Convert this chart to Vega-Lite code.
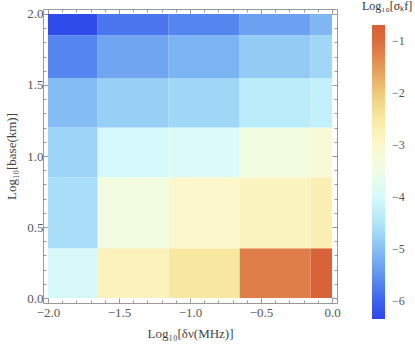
{
  "$schema": "https://vega.github.io/schema/vega-lite/v6.json",
  "width": 294,
  "height": 294,
  "autosize": {"type": "none"},
  "padding": {"left": 43, "top": 9, "right": 78, "bottom": 50},
  "background": "white",
  "title": {"text": "Log₁₀[σₖf]", "anchor": "start", "frame": "group", "orient": "top", "dx": 319, "offset": 0, "dy": 5, "font": "Liberation Serif", "fontSize": 12, "fontWeight": "normal", "color": "#333333"},
  "config": {
    "view": {"stroke": null},
    "axis": {
      "labelFont": "Liberation Serif",
      "titleFont": "Liberation Serif",
      "labelColor": "#555555",
      "titleColor": "#444444",
      "labelFontSize": 13,
      "titleFontSize": 13,
      "titleFontWeight": "normal",
      "domainColor": "#999999",
      "tickColor": "#999999",
      "grid": false,
      "zindex": 1
    }
  },
  "datasets": {
    "cells": [
      {"x1": -2.0, "x2": -1.65, "y1": 0.0, "y2": 0.35, "v": -3.95},
      {"x1": -1.65, "x2": -1.15, "y1": 0.0, "y2": 0.35, "v": -2.8},
      {"x1": -1.15, "x2": -0.65, "y1": 0.0, "y2": 0.35, "v": -2.45},
      {"x1": -0.65, "x2": -0.15, "y1": 0.0, "y2": 0.35, "v": -1.2},
      {"x1": -0.15, "x2": 0.0, "y1": 0.0, "y2": 0.35, "v": -0.8},
      {"x1": -2.0, "x2": -1.65, "y1": 0.35, "y2": 0.85, "v": -4.6},
      {"x1": -1.65, "x2": -1.15, "y1": 0.35, "y2": 0.85, "v": -3.4},
      {"x1": -1.15, "x2": -0.65, "y1": 0.35, "y2": 0.85, "v": -3.0},
      {"x1": -0.65, "x2": -0.15, "y1": 0.35, "y2": 0.85, "v": -2.85},
      {"x1": -0.15, "x2": 0.0, "y1": 0.35, "y2": 0.85, "v": -2.7},
      {"x1": -2.0, "x2": -1.65, "y1": 0.85, "y2": 1.2, "v": -4.75},
      {"x1": -1.65, "x2": -1.15, "y1": 0.85, "y2": 1.2, "v": -4.0},
      {"x1": -1.15, "x2": -0.65, "y1": 0.85, "y2": 1.2, "v": -3.9},
      {"x1": -0.65, "x2": -0.15, "y1": 0.85, "y2": 1.2, "v": -3.4},
      {"x1": -0.15, "x2": 0.0, "y1": 0.85, "y2": 1.2, "v": -3.2},
      {"x1": -2.0, "x2": -1.65, "y1": 1.2, "y2": 1.55, "v": -5.05},
      {"x1": -1.65, "x2": -1.15, "y1": 1.2, "y2": 1.55, "v": -4.8},
      {"x1": -1.15, "x2": -0.65, "y1": 1.2, "y2": 1.55, "v": -4.7},
      {"x1": -0.65, "x2": -0.15, "y1": 1.2, "y2": 1.55, "v": -4.35},
      {"x1": -0.15, "x2": 0.0, "y1": 1.2, "y2": 1.55, "v": -4.25},
      {"x1": -2.0, "x2": -1.65, "y1": 1.55, "y2": 1.85, "v": -5.65},
      {"x1": -1.65, "x2": -1.15, "y1": 1.55, "y2": 1.85, "v": -5.3},
      {"x1": -1.15, "x2": -0.65, "y1": 1.55, "y2": 1.85, "v": -5.15},
      {"x1": -0.65, "x2": -0.15, "y1": 1.55, "y2": 1.85, "v": -4.85},
      {"x1": -0.15, "x2": 0.0, "y1": 1.55, "y2": 1.85, "v": -4.7},
      {"x1": -2.0, "x2": -1.65, "y1": 1.85, "y2": 2.0, "v": -6.3},
      {"x1": -1.65, "x2": -1.15, "y1": 1.85, "y2": 2.0, "v": -5.8},
      {"x1": -1.15, "x2": -0.65, "y1": 1.85, "y2": 2.0, "v": -5.65},
      {"x1": -0.65, "x2": -0.15, "y1": 1.85, "y2": 2.0, "v": -5.35},
      {"x1": -0.15, "x2": 0.0, "y1": 1.85, "y2": 2.0, "v": -5.1}
    ]
  },
  "layer": [
    {
      "data": {"name": "cells"},
      "mark": {"type": "rect"},
      "encoding": {
        "x": {"field": "x1", "type": "quantitative",
          "scale": {"domain": [-2.035, 0.035], "nice": false, "zero": false},
          "axis": {"orient": "bottom", "values": [-2, -1.5, -1, -0.5, 0], "format": ".1f", "tickSize": -5, "labelPadding": 8, "title": "Log₁₀[δν(MHz)]", "titlePadding": 8}},
        "x2": {"field": "x2"},
        "y": {"field": "y1", "type": "quantitative",
          "scale": {"domain": [-0.035, 2.035], "nice": false, "zero": false},
          "axis": {"orient": "left", "values": [0, 0.5, 1, 1.5, 2], "format": ".1f", "tickSize": -5, "labelPadding": 5, "title": "Log₁₀[base(km)]", "titlePadding": 8}},
        "y2": {"field": "y2"},
        "color": {"field": "v", "type": "quantitative",
          "scale": {
            "domain": [-6.35, -6, -5.5, -5, -4.5, -4, -3.5, -3, -2.5, -2, -1.5, -1, -0.69],
            "range": ["#2d48ea", "#3d62ec", "#6094ef", "#88c0f4", "#b0e6f8", "#d6f9fc", "#eefde6", "#fdf8cc", "#f8eaa4", "#efca7a", "#e39a5a", "#dc6c3e", "#d85e36"],
            "interpolate": "rgb"
          },
          "legend": {
            "orient": "none", "legendX": 329, "legendY": 16, "direction": "vertical",
            "gradientLength": 294, "gradientThickness": 13, "gradientStrokeWidth": 0,
            "title": null,
            "labelFont": "Liberation Serif", "labelFontSize": 12, "labelColor": "#555555", "labelOffset": 7,
            "values": [-1, -2, -3, -4, -5, -6]
          }
        }
      }
    },
    {
      "data": {"name": "cells"},
      "mark": {"type": "rect", "opacity": 0},
      "encoding": {
        "x": {"field": "x1", "type": "quantitative",
          "scale": {"domain": [-2.035, 0.035], "nice": false, "zero": false},
          "axis": {"orient": "bottom", "values": [-1.9, -1.8, -1.7, -1.6, -1.4, -1.3, -1.2, -1.1, -0.9, -0.8, -0.7, -0.6, -0.4, -0.3, -0.2, -0.1], "labels": false, "domain": false, "tickSize": -3, "title": null}},
        "x2": {"field": "x2"},
        "y": {"field": "y1", "type": "quantitative",
          "scale": {"domain": [-0.035, 2.035], "nice": false, "zero": false},
          "axis": {"orient": "left", "values": [0.1, 0.2, 0.3, 0.4, 0.6, 0.7, 0.8, 0.9, 1.1, 1.2, 1.3, 1.4, 1.6, 1.7, 1.8, 1.9], "labels": false, "domain": false, "tickSize": -3, "title": null}},
        "y2": {"field": "y2"}
      }
    },
    {
      "data": {"name": "cells"},
      "mark": {"type": "rect", "opacity": 0},
      "encoding": {
        "x": {"field": "x1", "type": "quantitative",
          "scale": {"domain": [-2.035, 0.035], "nice": false, "zero": false},
          "axis": {"orient": "top", "values": [-2, -1.5, -1, -0.5, 0], "labels": false, "tickSize": -5, "title": null}},
        "x2": {"field": "x2"},
        "y": {"field": "y1", "type": "quantitative",
          "scale": {"domain": [-0.035, 2.035], "nice": false, "zero": false},
          "axis": {"orient": "right", "values": [0, 0.5, 1, 1.5, 2], "labels": false, "tickSize": -5, "title": null}},
        "y2": {"field": "y2"}
      }
    },
    {
      "data": {"name": "cells"},
      "mark": {"type": "rect", "opacity": 0},
      "encoding": {
        "x": {"field": "x1", "type": "quantitative",
          "scale": {"domain": [-2.035, 0.035], "nice": false, "zero": false},
          "axis": {"orient": "top", "values": [-1.9, -1.8, -1.7, -1.6, -1.4, -1.3, -1.2, -1.1, -0.9, -0.8, -0.7, -0.6, -0.4, -0.3, -0.2, -0.1], "labels": false, "domain": false, "tickSize": -3, "title": null}},
        "x2": {"field": "x2"},
        "y": {"field": "y1", "type": "quantitative",
          "scale": {"domain": [-0.035, 2.035], "nice": false, "zero": false},
          "axis": {"orient": "right", "values": [0.1, 0.2, 0.3, 0.4, 0.6, 0.7, 0.8, 0.9, 1.1, 1.2, 1.3, 1.4, 1.6, 1.7, 1.8, 1.9], "labels": false, "domain": false, "tickSize": -3, "title": null}},
        "y2": {"field": "y2"}
      }
    }
  ],
  "resolve": {"axis": {"x": "independent", "y": "independent"}}
}
